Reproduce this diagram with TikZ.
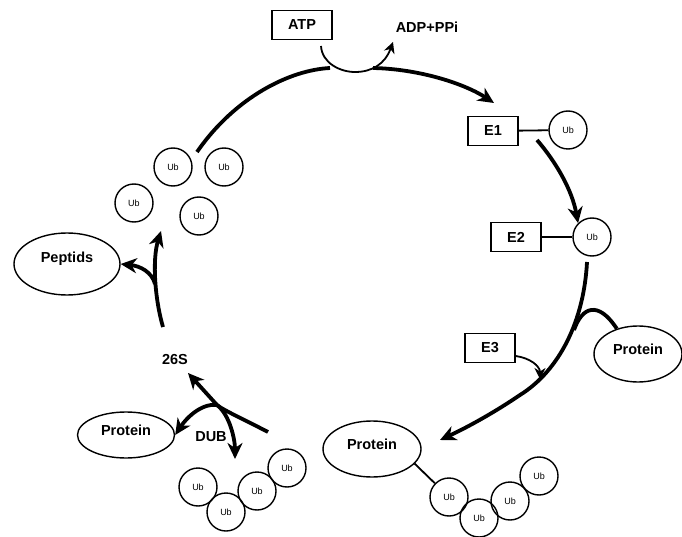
\documentclass[tikz,border=0pt]{standalone}
\usepackage{fontspec}
\setmainfont{Liberation Sans}
\usetikzlibrary{arrows.meta,shapes.geometric}
\begin{document}
\begin{tikzpicture}[x=1pt,y=-1pt,
  bigline/.style={line width=3.8pt},
  bigtip/.style={-{Stealth[length=16pt,width=15pt,inset=5pt]}},
  smallline/.style={line width=1.8pt},
  smalltip/.style={-{Stealth[length=11pt,width=11pt,inset=3.5pt]}},
  lbl/.style={font=\fontsize{14.5}{16}\selectfont\bfseries, inner sep=0pt},
  boxnode/.style={draw, line width=1.4pt, minimum width=50pt, minimum height=29pt, inner sep=0pt, font=\fontsize{14.5}{16}\selectfont\bfseries},
  ubnode/.style={draw, circle, line width=1.4pt, minimum size=38pt, inner sep=0pt, font=\fontsize{9}{10}\selectfont},
  ell/.style={draw, ellipse, line width=1.4pt, inner sep=0pt},
  elltext/.style={label={[lbl, yshift=5pt]center:#1}}
]
\useasboundingbox (0,0) rectangle (682,537);

% nodes
\node[boxnode, minimum width=60pt] (atp) at (302,25) {ATP};
\node[lbl] (adp) at (427,27) {ADP+PPi};
\node[boxnode] (e1) at (493,131) {E1};
\node[ubnode] (e1ub) at (568,130) {Ub};
\node[boxnode] (e2) at (516,237) {E2};
\node[ubnode] (e2ub) at (592,237) {Ub};
\node[boxnode] (e3) at (490,348) {E3};
\node[ell, minimum width=88pt, minimum height=56pt, elltext=Protein] (protR) at (638,354) {};
\node[ell, minimum width=98pt, minimum height=56pt, elltext=Protein] (protB) at (372,449) {};
\node[ubnode] (b1) at (449,497) {Ub};
\node[ubnode] (b2) at (479,518) {Ub};
\node[ubnode] (b3) at (510,501) {Ub};
\node[ubnode] (b4) at (539,476) {Ub};
\node[ell, minimum width=97pt, minimum height=46pt, elltext=Protein] (protL) at (126,435) {};
\node[ubnode] (c1) at (198,487) {Ub};
\node[ubnode] (c2) at (226,512) {Ub};
\node[ubnode] (c3) at (257,491) {Ub};
\node[ubnode] (c4) at (287,468) {Ub};
\node[lbl] (s26) at (175,360) {26S};
\node[lbl] (dub) at (211,437) {DUB};
\node[ell, minimum width=106pt, minimum height=62pt, elltext=Peptids] (pept) at (67,264) {};
\node[ubnode] (p1) at (173,167) {Ub};
\node[ubnode] (p2) at (224,167) {Ub};
\node[ubnode] (p3) at (134,203) {Ub};
\node[ubnode] (p4) at (199,216) {Ub};

% coordinates for free ends
\coordinate (arcL) at (197,152);
\coordinate (atpL) at (330,68);
\coordinate (atpR) at (373,68);
\coordinate (atpS) at (321,46);
\coordinate (adpE) at (393,42);
\coordinate (e1top) at (494,103);
\coordinate (e1out) at (537,140);
\coordinate (e2out) at (587,262);
\coordinate (mid) at (520,395);
\coordinate (bump) at (574,330);
\coordinate (protBtip) at (440,440);
\coordinate (e3tip) at (540,379);
\coordinate (dubstart) at (268,432);
\coordinate (junc) at (217,405);
\coordinate (s26tip) at (188,373);
\coordinate (ubtipL) at (235,459);
\coordinate (pbot) at (163,327);
\coordinate (pjunc) at (155,284);
\coordinate (ptip) at (161,231);

% main cycle
\draw[bigline] (arcL) .. controls (235,97) and (290,70) .. (atpL);
\draw[bigline, bigtip] (atpR) .. controls (420,69) and (465,84) .. (e1top);
\draw[smallline, smalltip] (atpS) .. controls (322,63) and (340,72) .. (355,72)
   .. controls (372,72) and (385,64) .. (adpE);
\draw[smallline] (e1) -- (e1ub);
\draw[smallline] (e2) -- (e2ub);
\draw[bigline, bigtip] (e1out) .. controls (556,162) and (572,190) .. (e2ub.north west);
\draw[bigline, bigtip] (e2out) .. controls (584,320) and (560,370) .. (mid)
   .. controls (495,412) and (468,427) .. (protBtip);
\draw[bigline] (bump) .. controls (582,307) and (598,300) .. (protR.130);
\draw[smallline, smalltip] (e3.east) ++(0,8) .. controls (530,358) and (540,366) .. (e3tip);

% bottom protein chain
\draw[smallline] (protB.-19) -- (b1);

% 26S / DUB
\draw[bigline, bigtip] (dubstart) .. controls (245,420) and (223,410) .. (junc) -- (s26tip);
\draw[bigline, bigtip] (junc) .. controls (200,403) and (185,420) .. (protL.east);
\draw[bigline, bigtip] (junc) .. controls (230,415) and (235,440) .. (ubtipL);

% 26S -> peptids / ub
\draw[bigline, bigtip] (pbot) .. controls (155,300) and (152,260) .. (ptip);
\draw[bigline, bigtip] (pjunc) .. controls (152,272) and (140,266) .. (pept.east);
\end{tikzpicture}
\end{document}
